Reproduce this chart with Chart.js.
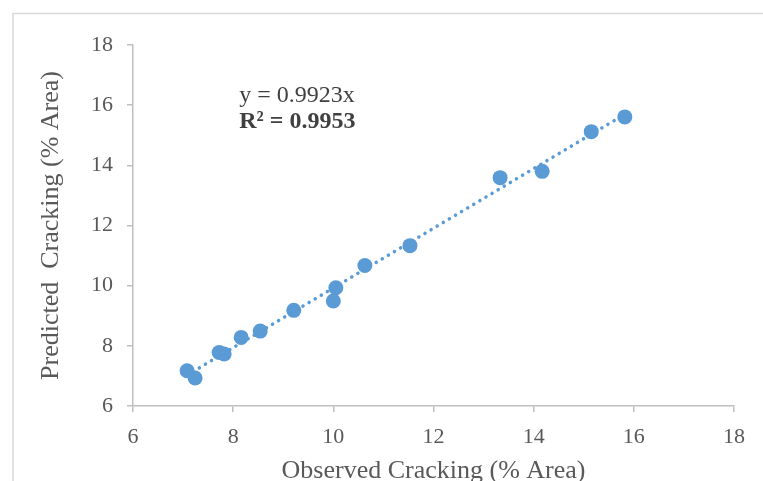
<!DOCTYPE html>
<html>
<head>
<meta charset="utf-8">
<script src="https://cdn.jsdelivr.net/npm/chart.js@4.4.1/dist/chart.umd.min.js"></script>
<style>
  html, body { margin:0; padding:0; background:#fff; overflow:hidden; }
  #wrap { position:relative; width:763px; height:500px; }
</style>
</head>
<body>
<div id="wrap"><canvas id="c" width="763" height="500"></canvas></div>
<script>
const observed  = [7.08, 7.24, 7.72, 7.82, 8.16, 8.54, 9.21, 10.00, 10.05, 10.63, 11.53, 13.33, 14.17, 15.15, 15.82];
const predicted = [7.17, 6.93, 7.78, 7.73, 8.28, 8.49, 9.18, 9.49, 9.93, 10.67, 11.33, 13.59, 13.80, 15.12, 15.61];
const slope = 0.9923;
const r2 = 0.9953;
const xTicks = [6, 8, 10, 12, 14, 16, 18];
const yTicks = [6, 8, 10, 12, 14, 16, 18];

const pts = observed.map((x, i) => ({ x, y: predicted[i] }));
const xMin = Math.min(...observed), xMax = Math.max(...observed);
const trend = [{ x: xMin, y: slope * xMin }, { x: xMax, y: slope * xMax }];

const serif = '"Liberation Serif", "Times New Roman", serif';
const grey = '#595959', axisCol = '#bfbfbf';

const frame = {
  id: 'frame',
  beforeDraw(chart) {
    const c = chart.ctx;
    c.save();
    c.strokeStyle = '#d9d9d9'; c.lineWidth = 1.5;
    c.beginPath(); c.moveTo(13, 600); c.lineTo(13, 13.5); c.lineTo(800, 13.5); c.stroke();
    c.restore();
  },
  afterDraw(chart) {
    const c = chart.ctx, xs = chart.scales.x, ys = chart.scales.y;
    c.save();
    c.fillStyle = '#404040';
    c.textBaseline = 'middle'; c.textAlign = 'left';
    c.font = '24px ' + serif;
    c.fillText('y = ' + slope + 'x', xs.getPixelForValue(8.12), ys.getPixelForValue(16.3));
    c.font = 'bold 24px ' + serif;
    c.fillText('R² = ' + r2, xs.getPixelForValue(8.12), ys.getPixelForValue(15.45));
    c.restore();
  }
};

new Chart(document.getElementById('c'), {
  type: 'scatter',
  data: {
    datasets: [
      { label: 'Data', data: pts, order: 0, backgroundColor: '#5b9bd5', borderColor: '#5b9bd5',
        pointRadius: 7.5, pointHoverRadius: 7.5, borderWidth: 0 },
      { type: 'line', label: 'Trend', data: trend, order: 1, borderColor: '#5b9bd5', borderWidth: 3.5,
        borderDash: [0.1, 7], borderCapStyle: 'round', pointRadius: 0, fill: false }
    ]
  },
  options: {
    responsive: false, animation: false,
    layout: { padding: { left: 0, right: 29, top: 45, bottom: 0 } },
    plugins: { legend: { display: false }, tooltip: { enabled: false } },
    scales: {
      x: {
        type: 'linear', min: 6, max: 18,
        afterBuildTicks: s => { s.ticks = xTicks.map(v => ({ value: v })); },
        afterFit: s => { s.height = 94; },
        border: { color: axisCol, width: 1.5 },
        grid: { display: true, drawOnChartArea: false, drawTicks: true, tickLength: 6, color: axisCol, lineWidth: 1.5 },
        ticks: { color: grey, font: { family: serif, size: 22 }, padding: 12, maxRotation: 0 },
        title: { display: true, text: 'Observed Cracking (% Area)', color: grey,
                 font: { family: serif, size: 26 }, padding: { top: 0, bottom: 13 } }
      },
      y: {
        type: 'linear', min: 6, max: 18,
        afterBuildTicks: s => { s.ticks = yTicks.map(v => ({ value: v })); },
        afterFit: s => { s.width = 133; },
        border: { color: axisCol, width: 1.5 },
        grid: { display: true, drawOnChartArea: false, drawTicks: true, tickLength: 6, color: axisCol, lineWidth: 1.5 },
        ticks: { color: grey, font: { family: serif, size: 22 }, padding: 14 },
        title: { display: true, text: 'Predicted  Cracking (% Area)', color: grey,
                 font: { family: serif, size: 26 }, padding: { top: 36, bottom: 0 } }
      }
    }
  },
  plugins: [frame]
});
</script>
</body>
</html>
